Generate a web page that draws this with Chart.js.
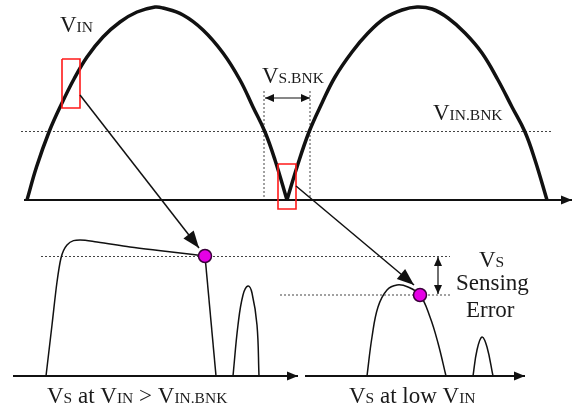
<!DOCTYPE html>
<html>
<head>
<meta charset="utf-8">
<script src="https://cdn.jsdelivr.net/npm/chart.js@4.4.1/dist/chart.umd.min.js"></script>
<style>
  html, body { margin: 0; padding: 0; background: #fff; }
  #diagram { display: block; }
</style>
</head>
<body>
<canvas id="diagram" width="577" height="414"></canvas>
<script>
// ---- top panel: rectified input voltage ----
const topAxisX = [24, 572];
const topAxisY = [200, 200];
const hump1X = [27, 36.5, 49, 62, 74, 87, 103, 120, 137, 155, 163, 183, 203, 223, 240, 253, 265, 275, 287];
const hump1Y = [200, 167, 132, 103, 79, 57, 37, 22, 12, 7, 8, 15, 30, 53, 80, 107, 132, 160, 200];
const hump2X = [287, 297, 309, 322, 335, 352, 368, 385, 402, 417, 432, 448, 465, 482, 498, 512, 525, 535, 547];
const hump2Y = [200, 167, 132, 103, 77, 52, 33, 18, 10, 7, 9, 18, 33, 53, 80, 107, 132, 160, 200];
const bankLineX = [21, 552];
const bankLineY = [131.5, 131.5];
const blankEdgeY = [91, 200];
const blankLeftX = [264, 264];
const blankRightX = [310, 310];
const blankSpanX = [265, 310];
const blankSpanY = [98, 98];
const box1X = [62, 80, 80, 62, 62];
const box1Y = [59, 59, 108, 108, 59];
const box2X = [278, 296, 296, 278, 278];
const box2Y = [164, 164, 209, 209, 164];
const pointer1X = [80, 199];
const pointer1Y = [95, 248];
const pointer2X = [296, 414];
const pointer2Y = [186, 285];

// ---- bottom left: Vs at high input ----
const leftAxisX = [13, 298];
const leftAxisY = [376, 376];
const pulseRiseX = [46, 52, 57, 61, 67, 80, 97, 130, 163, 205];
const pulseRiseY = [376, 325, 282, 258, 245, 240, 242, 247, 251, 256];
const pulseFallX = [205, 216];
const pulseFallY = [256, 376];
const ringLeftX = [233, 238, 243, 248, 252, 257, 259];
const ringLeftY = [376, 325, 295, 286, 293, 325, 376];
const senseLevelX = [41, 450];
const senseLevelY = [256.5, 256.5];
const sampleHighX = [205];
const sampleHighY = [256];

// ---- bottom right: Vs at low input ----
const rightAxisX = [305, 525];
const rightAxisY = [376, 376];
const lowHumpX = [367, 372, 378, 387, 397, 408, 420, 430, 438, 446];
const lowHumpY = [376, 337, 307, 290, 285, 287, 295, 317, 343, 376];
const ringRightX = [473, 477, 482, 487, 493];
const ringRightY = [376, 350, 337, 347, 376];
const lowLevelX = [280, 450];
const lowLevelY = [295, 295];
const sampleLowX = [420];
const sampleLowY = [295];
const errorSpanX = [438, 438];
const errorSpanY = [257, 294];

function pts(xs, ys) {
    return xs.map(function (x, i) { return { x: x, y: ys[i] }; });
}

const INK = "#111";
const BIG = 23, SMALL = 15.5;
const FONT = '"Liberation Serif", "DejaVu Serif", serif';

// text pieces: [string, size]
const labels = [
    { x: 60, y: 32, parts: [["V", BIG], ["IN", SMALL]] },
    { x: 262, y: 83, parts: [["V", BIG], ["S.BNK", SMALL]] },
    { x: 433, y: 120, parts: [["V", BIG], ["IN.BNK", SMALL]] },
    { x: 479, y: 267, parts: [["V", BIG], ["S", SMALL]] },
    { x: 456, y: 290, parts: [["Sensing", BIG]] },
    { x: 466, y: 317, parts: [["Error", BIG]] },
    { x: 47, y: 403, parts: [["V", BIG], ["S", SMALL], [" at ", BIG], ["V", BIG], ["IN", SMALL], [" > ", BIG], ["V", BIG], ["IN.BNK", SMALL]] },
    { x: 349, y: 403, parts: [["V", BIG], ["S", SMALL], [" at low ", BIG], ["V", BIG], ["IN", SMALL]] }
];

function line(xs, ys, extra) {
    return Object.assign({
        data: pts(xs, ys),
        showLine: true,
        borderColor: INK,
        borderWidth: 1.5,
        pointRadius: 0,
        fill: false,
        tension: 0
    }, extra || {});
}

function dot(xs, ys) {
    return {
        data: pts(xs, ys),
        showLine: false,
        pointRadius: 6.5,
        pointBackgroundColor: "#e600e6",
        pointBorderColor: "#3a003a",
        pointBorderWidth: 1.5
    };
}

const dotted = { borderWidth: 1, borderDash: [2, 2], borderColor: "#444" };
const smooth = { cubicInterpolationMode: "monotone" };
const round = { tension: 0.4 };

// arrow heads drawn from the dataset's own pixel points
const arrowHeads = {
    id: "arrowHeads",
    afterDatasetsDraw(chart) {
        const c = chart.ctx;
        chart.data.datasets.forEach(function (ds, i) {
            const p = chart.getDatasetMeta(i).data;
            if (p.length < 2) return;
            function head(tip, from, len, half) {
                const a = Math.atan2(tip.y - from.y, tip.x - from.x);
                c.save();
                c.fillStyle = INK;
                c.beginPath();
                c.moveTo(tip.x, tip.y);
                c.lineTo(tip.x - len * Math.cos(a) + half * Math.sin(a), tip.y - len * Math.sin(a) - half * Math.cos(a));
                c.lineTo(tip.x - len * Math.cos(a) - half * Math.sin(a), tip.y - len * Math.sin(a) + half * Math.cos(a));
                c.closePath();
                c.fill();
                c.restore();
            }
            if (ds.arrowEnd) head(p[p.length - 1], p[p.length - 2], ds.arrowEnd[0], ds.arrowEnd[1]);
            if (ds.arrowStart) head(p[0], p[1], ds.arrowStart[0], ds.arrowStart[1]);
        });
    }
};

const textLabels = {
    id: "textLabels",
    afterDraw(chart) {
        const c = chart.ctx;
        const sx = chart.scales.x, sy = chart.scales.y;
        c.save();
        c.fillStyle = "#1a1a1a";
        c.textBaseline = "alphabetic";
        c.textAlign = "left";
        labels.forEach(function (lb) {
            let px = sx.getPixelForValue(lb.x);
            const py = sy.getPixelForValue(lb.y);
            lb.parts.forEach(function (part) {
                c.font = part[1] + "px " + FONT;
                c.fillText(part[0], px, py);
                px += c.measureText(part[0]).width;
            });
        });
        c.restore();
    }
};

const whiteBg = {
    id: "whiteBg",
    beforeDraw(chart) {
        const c = chart.ctx;
        c.save();
        c.fillStyle = "#fff";
        c.fillRect(0, 0, chart.width, chart.height);
        c.restore();
    }
};

new Chart(document.getElementById("diagram"), {
    type: "scatter",
    data: {
        datasets: [
            dot(sampleHighX, sampleHighY),
            dot(sampleLowX, sampleLowY),
            line(pointer1X, pointer1Y, { arrowEnd: [17, 6.5] }),
            line(pointer2X, pointer2Y, { arrowEnd: [17, 6.5] }),
            line(box1X, box1Y, { borderColor: "#ff1a1a", borderWidth: 1.6 }),
            line(box2X, box2Y, { borderColor: "#ff1a1a", borderWidth: 1.6 }),
            line(hump1X, hump1Y, Object.assign({ borderWidth: 3.5 }, round)),
            line(hump2X, hump2Y, Object.assign({ borderWidth: 3.5 }, round)),
            line(topAxisX, topAxisY, { borderWidth: 2, arrowEnd: [11, 4.5] }),
            line(bankLineX, bankLineY, dotted),
            line(blankLeftX, blankEdgeY, dotted),
            line(blankRightX, blankEdgeY, dotted),
            line(blankSpanX, blankSpanY, { borderWidth: 1.2, arrowEnd: [9, 4], arrowStart: [9, 4] }),
            line(pulseRiseX, pulseRiseY, smooth),
            line(pulseFallX, pulseFallY),
            line(ringLeftX, ringLeftY, round),
            line(leftAxisX, leftAxisY, { borderWidth: 2, arrowEnd: [11, 4.5] }),
            line(senseLevelX, senseLevelY, dotted),
            line(lowLevelX, lowLevelY, dotted),
            line(lowHumpX, lowHumpY, round),
            line(ringRightX, ringRightY, round),
            line(rightAxisX, rightAxisY, { borderWidth: 2, arrowEnd: [11, 4.5] }),
            line(errorSpanX, errorSpanY, { borderWidth: 1.2, arrowEnd: [9, 4], arrowStart: [9, 4] })
        ]
    },
    options: {
        responsive: false,
        devicePixelRatio: 1,
        animation: false,
        events: [],
        layout: { padding: 0, autoPadding: false },
        plugins: {
            legend: { display: false },
            tooltip: { enabled: false }
        },
        scales: {
            x: { type: "linear", min: 0, max: 577, display: false },
            y: { type: "linear", min: 0, max: 414, reverse: true, display: false }
        }
    },
    plugins: [whiteBg, arrowHeads, textLabels]
});
</script>
</body>
</html>
